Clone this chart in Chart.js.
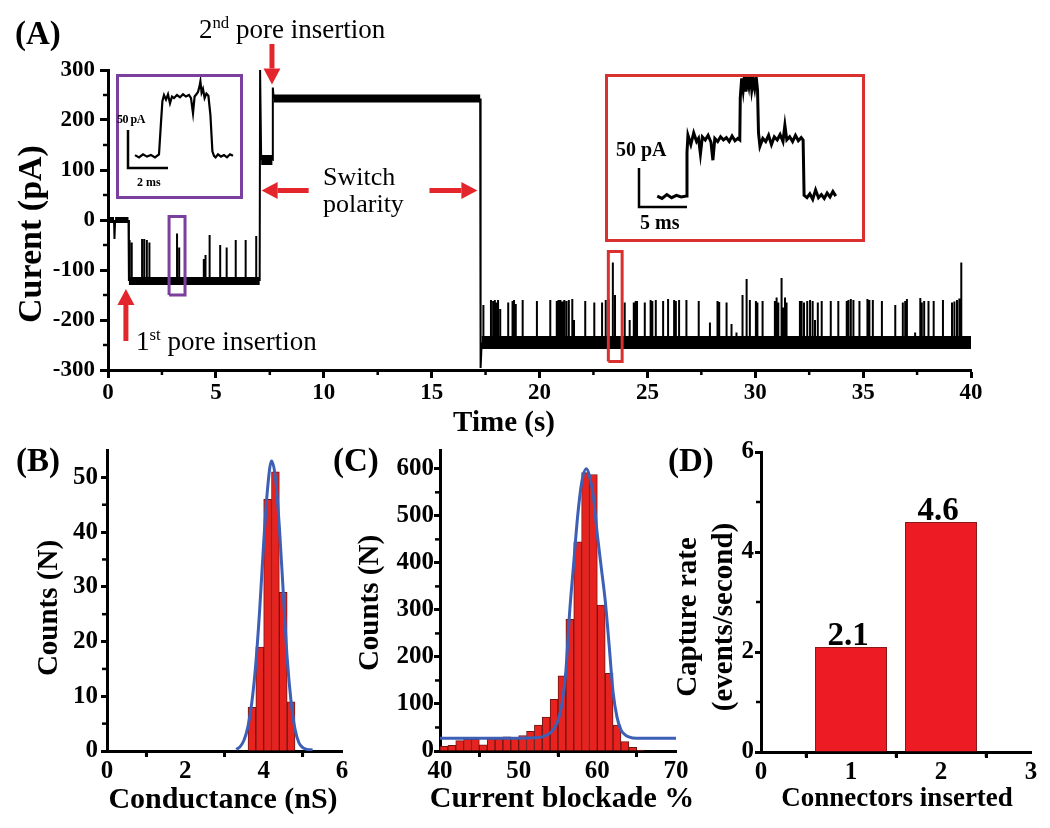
<!DOCTYPE html>
<html>
<head>
<meta charset="utf-8">
<script src="https://cdn.jsdelivr.net/npm/chart.js@4.4.1/dist/chart.umd.min.js"></script>
<style>
  body { margin: 0; background: #fff; overflow: hidden; }
  #fig { position: relative; width: 1050px; height: 828px; font-family: 'Liberation Serif', 'Times New Roman', serif; color: #000; }
  canvas { position: absolute; }
  .t { position: absolute; white-space: nowrap; line-height: 1; }
  .b { font-weight: bold; }
  .c { transform: translate(-50%, -50%); }
  .r { transform: translate(-50%, -50%) rotate(-90deg); }
  .box { position: absolute; box-sizing: border-box; border: 3px solid; }
  sup { font-size: 62%; vertical-align: 0.6em; line-height: 0; }
</style>
</head>
<body>
<div id="fig">
  <canvas id="chartA" width="1050" height="440" style="left:0px;top:0px"></canvas>
  <canvas id="chartB" width="360" height="360" style="left:0px;top:430px"></canvas>
  <canvas id="chartC" width="340" height="360" style="left:360px;top:430px"></canvas>
  <canvas id="chartD" width="350" height="360" style="left:700px;top:430px"></canvas>

  <div class="box" style="left:116px;top:74px;width:127px;height:125px;border-color:#7b3f9e"></div>
  <canvas id="insetP" width="120" height="118" style="left:119px;top:77px"></canvas>
  <div class="box" style="left:605px;top:74px;width:260px;height:168px;border-color:#d8312e"></div>
  <canvas id="insetR" width="253" height="161" style="left:608px;top:77px"></canvas>

  <div class="t b" style="left:15px;top:17px;font-size:33px">(A)</div>
  <div class="t b" style="left:16px;top:444px;font-size:33px">(B)</div>
  <div class="t b" style="left:333px;top:444px;font-size:33px">(C)</div>
  <div class="t b" style="left:668px;top:444px;font-size:33px">(D)</div>

  <div class="t" style="left:199px;top:16px;font-size:27px">2<sup>nd</sup> pore insertion</div>
  <div class="t" style="left:323px;top:163px;font-size:26px;line-height:27px">Switch<br>polarity</div>
  <div class="t" style="left:136px;top:328px;font-size:27px">1<sup>st</sup> pore insertion</div>

  <div class="t b" style="left:117px;top:113px;font-size:12px;letter-spacing:-0.5px">50 pA</div>
  <div class="t b" style="left:137px;top:176px;font-size:12px">2 ms</div>
  <div class="t b" style="left:616px;top:139px;font-size:20px">50 pA</div>
  <div class="t b" style="left:640px;top:212px;font-size:20px">5 ms</div>

  <div class="t b r" style="left:30px;top:234px;font-size:34px">Curent (pA)</div>
  <div class="t b c" style="left:504px;top:421px;font-size:29px">Time (s)</div>
  <div class="t b r" style="left:47px;top:608px;font-size:29px">Counts (N)</div>
  <div class="t b c" style="left:223px;top:798px;font-size:30px">Conductance (nS)</div>
  <div class="t b r" style="left:368px;top:603px;font-size:29px">Counts (N)</div>
  <div class="t b c" style="left:562px;top:797px;font-size:30px">Current blockade %</div>
  <div class="t b r" style="left:704px;top:617px;font-size:29px;line-height:36px;text-align:center">Capture rate<br>(events/second)</div>
  <div class="t b c" style="left:897px;top:797px;font-size:27px">Connectors inserted</div>
</div>

<script>
// ---- panel A: current trace (s, pA) ----
const traceTime    = [0, 0.28, 0.3, 0.33, 0.95, 0.97, 7.03, 7.05, 7.1, 7.62, 7.64, 7.68, 17.25, 17.27, 17.32, 40];
const traceCurrent = [0, 0, -38, 0, 0, -122, -122, 300, 120, 120, 265, 243, 243, -296, -245, -245];

// translocation events (time, peak current)
const earlySpikeTime = [1.0, 1.1, 1.58, 1.68, 1.8, 1.92, 3.2, 3.3, 4.44, 4.52, 4.71, 5.2, 5.5, 5.92, 6.38, 6.87];
const earlySpikeTop  = [-40, -45, -38, -38, -40, -45, -27, -55, -78, -70, -30, -50, -55, -40, -40, -32];

const lateSpikeTime = [17.4, 17.75, 17.85, 17.93, 18.0, 18.08, 18.18, 18.55, 18.75, 18.82, 18.9, 19.22, 19.88,
  20.5, 20.8, 20.88, 20.97, 21.06, 21.15, 21.25, 21.36, 21.52, 21.6, 22.12, 22.54, 22.9, 23.07, 23.2, 23.4, 23.5,
  23.95, 24.18, 24.37, 24.46, 24.52, 24.88, 25.15, 25.23, 25.39, 25.73, 25.96, 26.24, 26.32, 26.47, 26.81, 27.38,
  27.9, 28.25, 28.33, 28.67, 28.9, 29.13, 29.41, 29.6, 29.75, 30.03, 30.1, 30.34, 30.91, 30.99, 31.07, 31.22, 31.3,
  31.38, 31.45, 32.07, 32.15, 32.26, 32.41, 32.54, 32.66, 32.77, 32.9, 33.08, 33.5, 33.85, 34.24, 34.32, 34.43,
  34.55, 34.83, 35.2, 35.29, 35.45, 35.87, 36.49, 36.84, 36.95, 37.03, 37.41, 37.65, 37.72, 37.83, 38.03, 38.27,
  38.7, 39.12, 39.23, 39.35, 39.46, 39.55];
const lateSpikeTop = [-170, -160, -162, -160, -165, -160, -178, -165, -162, -160, -168, -160, -162,
  -160, -162, -160, -160, -163, -160, -162, -160, -158, -200, -162, -165, -165, -160, -158, -85, -150,
  -165, -200, -165, -162, -162, -165, -160, -162, -160, -162, -158, -160, -162, -160, -160, -162,
  -205, -162, -164, -165, -208, -225, -150, -118, -160, -162, -165, -162, -162, -155, -165, -116, -175,
  -155, -165, -162, -162, -165, -162, -160, -162, -200, -165, -162, -162, -162, -162, -160, -158,
  -160, -162, -158, -160, -160, -162, -170, -165, -162, -158, -225, -156, -165, -162, -162, -162,
  -160, -165, -163, -160, -157, -85];

// marker boxes on the trace [t0, t1, i0, i1]
const purpleMark = [2.83, 3.57, -150, 7];
const redMark = [23.19, 23.83, -283, -63];

// arrows [t0, i0, t1, i1]
const arrowNotes = [
  [7.6, 352, 7.6, 271],
  [9.3, 59, 7.12, 59],
  [14.9, 59, 17.12, 59],
  [0.83, -242, 0.83, -138]
];

// insets (ms, pA)
const purpleT = [0.35, 0.55, 0.75, 0.95, 1.15, 1.35, 1.55, 1.65, 1.72, 1.8, 1.9, 2.0, 2.1, 2.2, 2.3, 2.45, 2.6, 2.75, 2.9, 3.05,
  3.15, 3.25, 3.33, 3.42, 3.5, 3.58, 3.62, 3.68, 3.75, 3.83, 3.92, 4.02, 4.12, 4.22, 4.3, 4.38, 4.5, 4.65, 4.8, 4.95, 5.1, 5.25];
const purpleI = [17, 14, 18, 15, 17, 14, 18, 60, 88, 96, 90, 97, 85, 94, 92, 96, 93, 97, 94, 96,
  92, 72, 94, 97, 100, 108, 114, 99, 104, 92, 98, 95, 70, 22, 16, 14, 18, 15, 17, 14, 18, 16];
const redT = [1.9, 2.4, 2.9, 3.4, 3.9, 4.4, 4.95, 5.0, 5.1, 5.4, 5.7, 6.0, 6.2, 6.4, 6.6, 6.9, 7.2, 7.5, 7.7, 7.9, 8.2, 8.5,
  8.8, 9.1, 9.4, 9.7, 10.0, 10.3, 10.5, 10.55, 10.7, 10.85, 11.0, 11.15, 11.3, 11.45, 11.6, 11.75, 11.9, 12.05, 12.2, 12.35,
  12.45, 12.6, 12.9, 13.2, 13.5, 13.8, 14.1, 14.4, 14.7, 15.0, 15.2, 15.4, 15.7, 16.0, 16.3, 16.6, 16.9, 17.1,
  17.2, 17.5, 17.8, 18.1, 18.4, 18.7, 19.0, 19.3, 19.6, 19.9, 20.2, 20.5];
const redI = [14, 11, 16, 12, 15, 13, 14, 70, 92, 80, 95, 84, 88, 68, 90, 86, 92, 83, 60, 88, 84, 90,
  86, 89, 84, 91, 85, 88, 86, 140, 165, 150, 170, 148, 166, 155, 172, 150, 162, 152, 168, 150,
  95, 78, 88, 84, 92, 80, 90, 86, 93, 84, 105, 86, 90, 84, 92, 85, 89, 86,
  15, 12, 17, 10, 22, 12, 16, 11, 18, 13, 20, 14];
const purpleBar = [[0, 50], [0, 0], [2, 0]];
const redBar = [[0, 50], [0, 0], [5, 0]];

// ---- panel B: conductance histogram ----
const condBins = [3.7, 3.9, 4.1, 4.3, 4.5, 4.7];
const condCounts = [8, 19, 46, 51, 29, 9];
const condFitX = [3.3, 3.4, 3.5, 3.6, 3.7, 3.8, 3.9, 4.0, 4.1, 4.2, 4.3, 4.4, 4.5, 4.6, 4.7, 4.8, 4.9, 5.0, 5.1, 5.25];
const condFitY = [0.3, 0.8, 2, 4.5, 9, 16, 26, 38, 48, 53, 50, 41, 29, 17, 9, 4, 1.5, 0.6, 0.3, 0.2];

// ---- panel C: current blockade histogram ----
const blockBins = [40.5, 41.5, 42.5, 43.5, 44.5, 45.5, 46.5, 47.5, 48.5, 49.5, 50.5, 51.5, 52.5,
  53.5, 54.5, 55.5, 56.5, 57.5, 58.5, 59.5, 60.5, 61.5, 62.5, 63.5, 64.5, 65.5];
const blockCounts = [10, 12, 22, 25, 25, 13, 26, 26, 30, 28, 33, 42, 55, 72, 110, 160, 280, 445, 592, 588, 310, 165, 55, 20, 8, 2];
const blockFitX = [40, 45, 50, 52, 53, 54, 54.5, 55, 55.5, 56, 56.5, 57, 57.5, 58, 58.6, 59, 59.5, 60, 60.5, 61, 61.5, 62, 62.5, 63, 63.5, 64, 65, 70];
const blockFitY = [27, 27, 27, 28, 30, 38, 48, 65, 100, 170, 300, 400, 500, 570, 600, 585, 540, 460, 390, 320, 225, 125, 72, 45, 35, 30, 27, 27];

// ---- panel D: capture rate ----
const connectors = [1, 2];
const captureRate = [2.1, 4.6];

Chart.defaults.font.family = "'Liberation Serif', 'Times New Roman', serif";
Chart.defaults.font.weight = 'bold';
Chart.defaults.font.size = 25;
Chart.defaults.color = '#000';

const pts = (xs, ys) => xs.map((x, i) => ({ x: x, y: ys[i] }));

function levelAt(t) {
  let v = traceCurrent[0];
  for (let i = 0; i < traceTime.length; i++) if (traceTime[i] <= t) v = traceCurrent[i];
  return v;
}
function spikePoints(ts, tops) {
  const out = [];
  ts.forEach((t, i) => { out.push({ x: t, y: levelAt(t) }, { x: t, y: tops[i] }, { x: t, y: null }); });
  return out;
}
function boxPoints(b) {
  return [{ x: b[0], y: b[2] }, { x: b[1], y: b[2] }, { x: b[1], y: b[3] }, { x: b[0], y: b[3] }, { x: b[0], y: b[2] }];
}
function bandWidth(y) {
  if (y <= -200) return 13;
  if (y < -50) return 8;
  if (y > 200) return 8;
  if (y > 50) return 10;
  return 6;
}

const minorTicks = {
  id: 'minorTicks',
  afterDraw(chart) {
    const ctx = chart.ctx;
    ['x', 'y'].forEach(id => {
      const s = chart.scales[id];
      const tk = s.ticks;
      ctx.save();
      ctx.strokeStyle = '#000';
      ctx.lineWidth = 2.5;
      for (let i = 0; i < tk.length - 1; i++) {
        const p = s.getPixelForValue((tk[i].value + tk[i + 1].value) / 2);
        ctx.beginPath();
        if (id === 'x') { ctx.moveTo(p, s.top); ctx.lineTo(p, s.top + 5); }
        else { ctx.moveTo(s.right, p); ctx.lineTo(s.right - 5, p); }
        ctx.stroke();
      }
      ctx.restore();
    });
  }
};

const arrows = {
  id: 'arrows',
  afterDatasetsDraw(chart) {
    const { ctx, scales: { x, y } } = chart;
    ctx.save();
    ctx.strokeStyle = '#e3262b';
    ctx.fillStyle = '#e3262b';
    arrowNotes.forEach(a => {
      const x0 = x.getPixelForValue(a[0]), y0 = y.getPixelForValue(a[1]);
      const x1 = x.getPixelForValue(a[2]), y1 = y.getPixelForValue(a[3]);
      const ang = Math.atan2(y1 - y0, x1 - x0), hl = 16, hw = 8.5;
      const bx = x1 - hl * Math.cos(ang), by = y1 - hl * Math.sin(ang);
      ctx.lineWidth = 5;
      ctx.beginPath(); ctx.moveTo(x0, y0); ctx.lineTo(bx, by); ctx.stroke();
      ctx.beginPath();
      ctx.moveTo(x1, y1);
      ctx.lineTo(bx + hw * Math.sin(ang), by - hw * Math.cos(ang));
      ctx.lineTo(bx - hw * Math.sin(ang), by + hw * Math.cos(ang));
      ctx.closePath(); ctx.fill();
    });
    ctx.restore();
  }
};

function axis(opts) {
  return Object.assign({
    type: 'linear',
    grid: { drawOnChartArea: false, drawTicks: true, tickLength: 6, tickWidth: 3, tickColor: '#000' },
    border: { display: true, width: 3, color: '#000' }
  }, opts);
}

const base = { responsive: false, animation: false, events: [], plugins: { legend: { display: false }, tooltip: { enabled: false } } };

// ----- A -----
new Chart(document.getElementById('chartA'), {
  type: 'line',
  data: {
    datasets: [
      { data: boxPoints(purpleMark), borderColor: '#7b3f9e', borderWidth: 3, pointRadius: 0, borderJoinStyle: 'miter', order: 0 },
      { data: boxPoints(redMark), borderColor: '#d8312e', borderWidth: 3, pointRadius: 0, borderJoinStyle: 'miter', order: 0 },
      {
        data: pts(traceTime, traceCurrent), borderColor: '#000', borderWidth: 6, pointRadius: 0, order: 1,
        borderCapStyle: 'butt', borderJoinStyle: 'miter',
        segment: {
          borderWidth: c => Math.abs(c.p1.parsed.y - c.p0.parsed.y) > 5 ? 2 : bandWidth(c.p0.parsed.y)
        }
      },
      { data: spikePoints(earlySpikeTime, earlySpikeTop), borderColor: '#000', borderWidth: 2, pointRadius: 0, spanGaps: false, order: 2 },
      { data: spikePoints(lateSpikeTime, lateSpikeTop), borderColor: '#000', borderWidth: 2, pointRadius: 0, spanGaps: false, order: 2 }
    ]
  },
  options: Object.assign({}, base, {
    layout: { padding: { left: 0, right: 79, top: 70, bottom: 0 } },
    scales: {
      x: axis({ min: 0, max: 40, ticks: { stepSize: 5, padding: 1, font: { size: 23 } },
        grid: { drawOnChartArea: false, tickLength: 8, tickWidth: 3, tickColor: '#000' },
        afterFit: s => { s.height = 70; } }),
      y: axis({ min: -300, max: 300, ticks: { stepSize: 100, padding: 5, font: { size: 23 } },
        grid: { drawOnChartArea: false, tickLength: 8, tickWidth: 3, tickColor: '#000' },
        afterFit: s => { s.width = 108; } })
    }
  }),
  plugins: [minorTicks, arrows]
});

// ----- insets -----
function inset(id, tx, iy, bar, xr, yr, w) {
  new Chart(document.getElementById(id), {
    type: 'line',
    data: {
      datasets: [
        { data: pts(tx, iy), borderColor: '#000', borderWidth: w, pointRadius: 0 },
        { data: bar.map(p => ({ x: p[0], y: p[1] })), borderColor: '#000', borderWidth: 2.5, pointRadius: 0, borderJoinStyle: 'miter' }
      ]
    },
    options: Object.assign({}, base, {
      layout: { padding: 0 },
      scales: {
        x: { type: 'linear', display: false, min: xr[0], max: xr[1] },
        y: { type: 'linear', display: false, min: yr[0], max: yr[1] }
      }
    })
  });
}
inset('insetP', purpleT, purpleI, purpleBar, [-0.45, 5.55], [-35.5, 119.7], 2.2);
inset('insetR', redT, redI, redBar, [-3.23, 23.13], [-39.7, 166.7], 3);

// ----- B / C -----
function histChart(id, bins, counts, fx, fy, xs, ys, pad) {
  new Chart(document.getElementById(id), {
    type: 'bar',
    data: {
      datasets: [
        { type: 'line', data: pts(fx, fy), borderColor: '#3d5fb5', borderWidth: 3, pointRadius: 0, cubicInterpolationMode: 'monotone', order: 0 },
        { type: 'bar', data: pts(bins, counts), backgroundColor: '#e8231f', borderColor: '#6e1814', borderWidth: 1,
          barPercentage: 1, categoryPercentage: 1, order: 1 }
      ]
    },
    options: Object.assign({}, base, {
      layout: { padding: pad },
      scales: { x: axis(xs), y: axis(ys) }
    }),
    plugins: [minorTicks]
  });
}

histChart('chartB', condBins, condCounts, condFitX, condFitY,
  { offset: false, min: 0, max: 6, ticks: { stepSize: 2, padding: 0 }, afterFit: s => { s.height = 39; } },
  { min: 0, max: 55, ticks: { stepSize: 10, includeBounds: false, padding: 3 }, afterFit: s => { s.width = 107; } },
  { left: 0, right: 18, top: 20, bottom: 0 });

histChart('chartC', blockBins, blockCounts, blockFitX, blockFitY,
  { offset: false, min: 40, max: 70, ticks: { stepSize: 10, padding: 0 }, afterFit: s => { s.height = 39; } },
  { min: 0, max: 640, ticks: { stepSize: 100, includeBounds: false, padding: 0 }, afterFit: s => { s.width = 80; } },
  { left: 0, right: 24, top: 20, bottom: 0 });

// ----- D -----
const barLabels = {
  id: 'barLabels',
  afterDatasetsDraw(chart) {
    const ctx = chart.ctx;
    ctx.save();
    ctx.font = "bold 33px 'Liberation Serif', serif";
    ctx.fillStyle = '#000';
    ctx.textAlign = 'center';
    ctx.textBaseline = 'alphabetic';
    chart.getDatasetMeta(0).data.forEach((el, i) => {
      ctx.fillText(captureRate[i].toFixed(1), el.x - 3, el.y - 2);
    });
    ctx.restore();
  }
};

new Chart(document.getElementById('chartD'), {
  type: 'bar',
  data: {
    datasets: [{ data: pts(connectors, captureRate), backgroundColor: '#ed1c24', borderColor: '#8a1a1a', borderWidth: 1,
      barPercentage: 0.8, categoryPercentage: 1 }]
  },
  options: Object.assign({}, base, {
    layout: { padding: { left: 0, right: 19, top: 22, bottom: 0 } },
    scales: {
      x: axis({ offset: false, min: 0, max: 3, ticks: { stepSize: 1, padding: 0 }, afterFit: s => { s.height = 38; } }),
      y: axis({ min: 0, max: 6, ticks: { stepSize: 2, padding: 1 }, afterFit: s => { s.width = 61; } })
    }
  }),
  plugins: [minorTicks, barLabels]
});
</script>
</body>
</html>
